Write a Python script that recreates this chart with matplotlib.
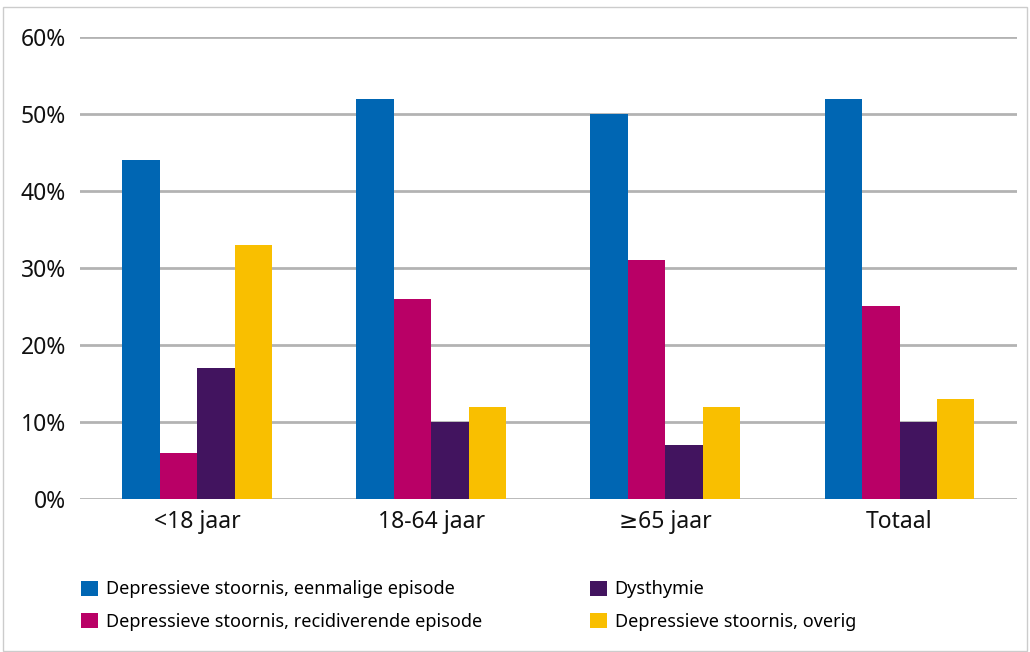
import numpy as np
import matplotlib.pyplot as plt
from matplotlib.patches import Rectangle
from matplotlib.ticker import PercentFormatter

plt.rcParams['font.family'] = ['Noto Sans', 'DejaVu Sans']

#--------- Data -----------
groups = ["<18 jaar", "18-64 jaar", "≥65 jaar", "Totaal"]
series_names = ["Depressieve stoornis, eenmalige episode",
                "Depressieve stoornis, recidiverende episode",
                "Dysthymie",
                "Depressieve stoornis, overig"]
eenmalig = [0.44, 0.52, 0.50, 0.52]
recidiverend = [0.06, 0.26, 0.31, 0.25]
dysthymie = [0.17, 0.10, 0.07, 0.10]
overig = [0.33, 0.12, 0.12, 0.13]
colors = ["#0066b3", "#b90066", "#42145f", "#f9bf00"]

#--------- Plot -----------
fig = plt.figure(figsize=(10.3, 6.52), dpi=100)
ax = fig.add_axes([0.0777, 0.2347, 0.9093, 0.7086])

x = np.arange(len(groups))
w = 0.16
all_series = [eenmalig, recidiverend, dysthymie, overig]
for i, vals in enumerate(all_series):
    ax.bar(x + (i - 1.5) * w, vals, width=w, color=colors[i],
           label=series_names[i], zorder=3)

ax.set_xlim(-0.5, 3.5)
ax.set_ylim(0, 0.6)
ax.set_yticks(np.arange(0, 0.61, 0.1))
ax.yaxis.set_major_formatter(PercentFormatter(1.0, decimals=0))
ax.set_xticks(x)
ax.set_xticklabels(groups)
ax.tick_params(axis='both', length=0, labelsize=16.5, colors="#111111")
ax.tick_params(axis='y', pad=10)
ax.tick_params(axis='x', pad=8)
ax.grid(axis='y', color="#b3b3b3", linewidth=2, zorder=0)
for s in ax.spines.values():
    s.set_visible(False)

fig.legend(loc='upper left', bbox_to_anchor=(0.072, 0.121), ncol=2,
           frameon=False, fontsize=13, handlelength=0.9, handleheight=0.9,
           handletextpad=0.45, columnspacing=6.0, labelspacing=0.8,
           borderaxespad=0)

# light border around the figure
fig.patches.append(Rectangle((0.003, 0.002), 0.994, 0.987, transform=fig.transFigure,
                             fill=False, edgecolor="#cccccc", linewidth=1))

plt.savefig("out.png", dpi=100)
